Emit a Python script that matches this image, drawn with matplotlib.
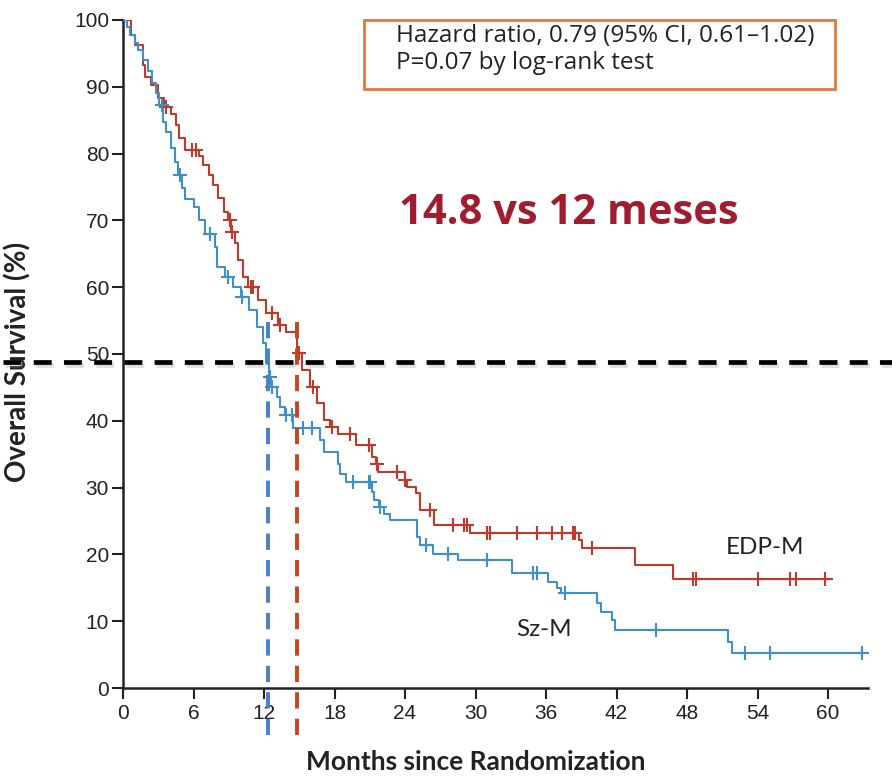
import numpy as np
import matplotlib
matplotlib.use("Agg")
import matplotlib.pyplot as plt
from matplotlib.patches import Rectangle
import matplotlib.patheffects as pe

# ---------------- data ----------------
edp_t = [0, 0.7, 1.0, 1.7, 1.85, 2.4, 3.0, 3.5, 4.1, 4.5, 4.8, 5.25, 6.5, 6.8, 7.3, 7.7,
         8.1, 8.6, 8.9, 9.2, 9.5, 9.8, 10.2, 10.6, 11.5, 12.2, 13.2, 13.9, 14.85, 15.2,
         15.9, 16.5, 17.1, 17.6, 18.3, 19.8, 21.2, 21.5, 21.7, 24.0, 24.2, 24.9, 25.3,
         26.5, 29.5, 38.8, 39.1, 43.6, 46.8, 60.3]
edp_s = [100, 97.8, 96.3, 93.3, 91.5, 90.3, 88.3, 87.0, 86.0, 84.3, 82.3, 80.6, 79.6, 78.3,
         76.8, 75.3, 73.3, 71.3, 70.0, 68.3, 66.6, 64.1, 61.6, 60.1, 58.1, 56.1, 54.3, 53.3,
         50.1, 47.6, 45.0, 42.6, 40.1, 39.1, 38.0, 36.4, 34.6, 33.6, 32.4, 31.1, 30.1, 29.2,
         26.6, 24.4, 23.2, 22.2, 21.0, 18.4, 16.3, 16.3]
edp_cens = [3.7, 5.9, 6.2, 9.1, 9.3, 10.9, 11.1, 12.7, 13.4, 14.95, 16.2, 17.8, 19.3, 20.9,
            21.6, 23.3, 24.0, 26.1, 28.1, 29.0, 29.3, 31.0, 31.2, 33.5, 35.2, 36.5, 37.4,
            38.3, 38.5, 39.9, 48.5, 48.8, 54.0, 56.8, 57.3, 59.7]

sz_t = [0, 0.3, 0.6, 1.0, 1.3, 1.7, 2.1, 2.5, 2.8, 3.1, 3.4, 3.7, 4.1, 4.4, 4.7, 5.0, 5.3,
        6.0, 6.5, 7.0, 7.8, 8.0, 8.7, 9.4, 10.0, 10.7, 11.4, 11.9, 12.2, 12.4, 12.6, 13.1,
        13.4, 13.8, 14.5, 16.8, 17.1, 18.3, 18.5, 19.0, 21.2, 21.4, 21.8, 22.2, 22.7, 25.0,
        25.3, 26.4, 28.5, 33.1, 36.2, 36.9, 37.3, 40.3, 40.7, 41.6, 41.9, 51.5, 51.8, 63.6]
sz_s = [100, 99.0, 97.8, 96.5, 95.5, 94.0, 92.3, 90.5, 89.0, 87.3, 84.8, 83.3, 80.8, 78.8,
        76.8, 74.8, 73.2, 72.0, 70.0, 68.0, 66.0, 63.0, 61.6, 60.0, 58.6, 56.6, 54.1, 51.6,
        48.6, 46.5, 45.1, 43.5, 42.1, 40.9, 38.9, 37.1, 35.4, 33.6, 32.1, 30.9, 29.4, 28.1,
        27.1, 26.1, 25.1, 22.6, 21.4, 20.1, 19.2, 17.2, 15.9, 14.9, 14.2, 12.7, 11.4, 10.2,
        8.7, 6.9, 5.2, 5.2]
sz_cens = [3.3, 4.85, 7.4, 8.9, 10.1, 12.5, 12.7, 13.9, 14.4, 15.3, 16.1, 19.6, 20.9, 21.05,
           21.9, 25.8, 27.7, 31.0, 34.9, 35.2, 37.6, 45.4, 52.9, 55.1, 62.9]

median_edp = 14.8
median_sz = 12.35
median_line = 48.8

x_ticks = [0, 6, 12, 18, 24, 30, 36, 42, 48, 54, 60]
y_ticks = [0, 10, 20, 30, 40, 50, 60, 70, 80, 90, 100]

RED = "#c0392b"
BLUE = "#3f8fc8"
FONT = ["Liberation Sans Narrow", "Liberation Sans", "DejaVu Sans"]
TXT = ["Lato", "DejaVu Sans"]


def step_value(t, s, c):
    idx = np.searchsorted(np.asarray(t), np.asarray(c), side="right") - 1
    return np.asarray(s)[idx]


plt.rcParams["font.family"] = FONT
fig = plt.figure(figsize=(8.92, 7.78), dpi=100)
ax = fig.add_axes([123 / 892, 90 / 778, 745 / 892, 668 / 778])

ax.step(edp_t, edp_s, where="post", color=RED, lw=1.5, zorder=3)
ax.step(sz_t, sz_s, where="post", color=BLUE, lw=1.5, zorder=3)
ax.plot(edp_cens, step_value(edp_t, edp_s, edp_cens), ls="none", marker="+",
        ms=10, mew=1.5, color=RED, zorder=4)
ax.plot(sz_cens, step_value(sz_t, sz_s, sz_cens), ls="none", marker="+",
        ms=10, mew=1.5, color=BLUE, zorder=4)

ax.set_xlim(0, 63.4)
ax.set_ylim(0, 100)
ax.set_xticks(x_ticks)
ax.set_yticks(y_ticks)
ax.tick_params(axis="both", direction="out", length=8, width=1.5, labelsize=15,
               color="#222222", labelcolor="#222222")
ax.tick_params(axis="y", pad=2)
for sp in ["top", "right"]:
    ax.spines[sp].set_visible(False)
for sp in ["left", "bottom"]:
    ax.spines[sp].set_linewidth(1.8)
    ax.spines[sp].set_color("#222222")

ax.set_xlabel("Months since Randomization", fontsize=19, fontweight="bold", color="#222222",
              family=TXT)
ax.xaxis.set_label_coords(0.474, -0.093)
ax.set_ylabel("Overall Survival (%)", fontsize=20, fontweight="bold", color="#222222",
              family=TXT)
ax.yaxis.set_label_coords(-0.123, 0.488)

# median reference lines
shadow = [pe.SimpleLineShadow(offset=(1, -2.5), alpha=0.25, shadow_color="gray"), pe.Normal()]
ax.plot([-10.2, 65.6], [median_line, median_line], color="black", lw=3.4,
        ls=(0, (3.8, 2.6)), clip_on=False, zorder=5, path_effects=shadow)
ax.plot([median_sz, median_sz], [54.8, -8], color="#4a80c4", lw=2.8,
        ls=(0, (4.2, 2.6)), clip_on=False, zorder=5)
ax.plot([median_edp, median_edp], [54.8, -8.5], color="#c8441f", lw=2.8,
        ls=(0, (4.2, 2.6)), clip_on=False, zorder=5)

# annotations
ax.text(37.9, 71.1, "14.8 vs 12 meses", fontsize=30, fontweight="bold", color="#a11c2f",
        ha="center", va="center", family=["Open Sans", "DejaVu Sans"])
ax.text(54.6, 21.1, "EDP-M", fontsize=17.5, color="#222222", ha="center", va="center",
        family=TXT)
ax.text(35.8, 8.7, "Sz-M", fontsize=17.5, color="#222222", ha="center", va="center",
        family=TXT)

# hazard ratio box
fig.patches.append(Rectangle((366 / 892, 1 - 92 / 778), 471 / 892, 69 / 778,
                             transform=fig.transFigure, facecolor="#e8e8e8",
                             edgecolor="none", zorder=1, alpha=0.6))
fig.patches.append(Rectangle((364 / 892, 1 - 89 / 778), 471 / 892, 69 / 778,
                             transform=fig.transFigure, facecolor="white",
                             edgecolor="#e07a3a", lw=2, zorder=2))
fig.text(396 / 892, 1 - 36 / 778, "Hazard ratio, 0.79 (95% CI, 0.61\u20131.02)", fontsize=17.5,
         color="#222222", ha="left", va="center", family=["Open Sans", "DejaVu Sans"], zorder=3)
fig.text(396 / 892, 1 - 63 / 778, "P=0.07 by log-rank test", fontsize=17.5,
         color="#222222", ha="left", va="center", family=["Open Sans", "DejaVu Sans"], zorder=3)

fig.savefig("out.png", dpi=100)
